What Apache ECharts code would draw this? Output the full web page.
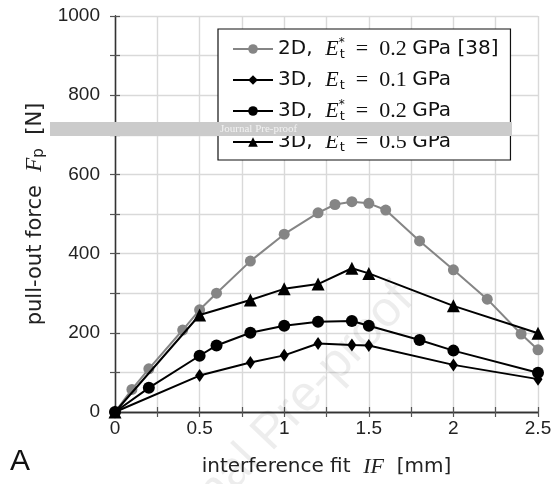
<!DOCTYPE html>
<html>
<head>
<meta charset="utf-8">
<script src="https://cdn.jsdelivr.net/npm/echarts@6/dist/echarts.min.js"></script>
<style>html,body{margin:0;padding:0;background:#fff;}#c{width:555px;height:484px;}</style>
</head>
<body>
<div id="c"></div>
<script>
// ---- data ----
const x2D = [0, 0.1, 0.2, 0.4, 0.5, 0.6, 0.8, 1.0, 1.2, 1.3, 1.4, 1.5, 1.6, 1.8, 2.0, 2.2, 2.4, 2.5];
const y2D = [0, 57, 109, 207, 258, 300, 381, 449, 503, 524, 531, 527, 510, 432, 359, 285, 197, 157];
const x01 = [0, 0.5, 0.8, 1.0, 1.2, 1.4, 1.5, 2.0, 2.5];
const y01 = [0, 92, 125, 143, 173, 169, 168, 119, 83];
const x02 = [0, 0.2, 0.5, 0.6, 0.8, 1.0, 1.2, 1.4, 1.5, 1.8, 2.0, 2.5];
const y02 = [0, 61, 142, 168, 200, 218, 228, 230, 218, 182, 155, 99];
const x05 = [0, 0.5, 0.8, 1.0, 1.2, 1.4, 1.5, 2.0, 2.5];
const y05 = [0, 245, 283, 311, 323, 363, 350, 268, 199];
const names = ['2D, E*t = 0.2 GPa [38]', '3D, Et = 0.1 GPa', '3D, E*t = 0.2 GPa', '3D, Et = 0.5 GPa'];
const richNames = [
  '2D,  {e|E}{sup|*}{sub|t}{m|  =  0.2 }GPa [38]',
  '3D,  {e|E}{sup| }{sub|t}{m|  =  0.1 }GPa',
  '3D,  {e|E}{sup|*}{sub|t}{m|  =  0.2 }GPa',
  '3D,  {e|E}{sup| }{sub|t}{m|  =  0.5 }GPa'
];
const xTicks = ['0', '0.5', '1', '1.5', '2', '2.5'];
const yTicks = ['0', '200', '400', '600', '800', '1000'];

const pairs = (xs, ys) => xs.map((v, i) => [v, ys[i]]);
const SANS = 'Liberation Sans';
const WIDE = 'DejaVu Sans';
const SERIF = 'Liberation Serif';

const chart = echarts.init(document.getElementById('c'), null, {renderer: 'canvas'});
const axisCommon = {
  axisLine: {show: true, lineStyle: {color: '#333', width: 1.3}},
  axisTick: {show: true, inside: true, length: 5, lineStyle: {color: '#555', width: 1.2}},
};
chart.setOption({
  animation: false,
  backgroundColor: '#fff',
  grid: {left: 115, right: 17, top: 16, bottom: 72},
  legend: {
    left: 218, top: 29, orient: 'vertical',
    backgroundColor: '#fff', borderColor: '#111', borderWidth: 1.2,
    padding: [8, 12, 6, 14],
    itemWidth: 40, itemHeight: 12, itemGap: 7,
    data: names,
    formatter: n => richNames[names.indexOf(n)],
    textStyle: {
      fontFamily: WIDE, fontSize: 20, color: '#111', lineHeight: 24,
      rich: {
        e: {fontFamily: SERIF, fontStyle: 'italic', fontSize: 22, color: '#111', lineHeight: 24},
        sup: {fontFamily: WIDE, fontSize: 12, color: '#111', verticalAlign: 'top', width: 1},
        sub: {fontFamily: WIDE, fontSize: 13, color: '#111', verticalAlign: 'bottom'},
        m: {fontFamily: SERIF, fontSize: 22, color: '#111', lineHeight: 24}
      }
    }
  },
  xAxis: [{
    type: 'value', min: 0, max: 2.5, interval: 0.25, position: 'bottom',
    ...axisCommon,
    splitLine: {show: true, lineStyle: {color: '#d9d9d9', width: 1.4}},
    axisLabel: {
      fontFamily: SANS, fontSize: 19, color: '#222', margin: 7,
      formatter: v => { const k = Math.round(v * 4); return k % 2 === 0 ? xTicks[k / 2] : ''; }
    },
    name: 'interference fit  {i|IF}  [mm]', nameLocation: 'middle', nameGap: 44,
    nameTextStyle: {fontFamily: WIDE, fontSize: 20, color: '#222',
      rich: {i: {fontFamily: SERIF, fontStyle: 'italic', fontSize: 22, color: '#222'}}}
  }, {
    type: 'value', min: 0, max: 2.5, interval: 0.25, position: 'top',
    ...axisCommon, splitLine: {show: false}, axisLabel: {show: false}
  }],
  yAxis: [{
    type: 'value', min: 0, max: 1000, interval: 100, position: 'left',
    ...axisCommon,
    splitLine: {show: true, lineStyle: {color: '#d9d9d9', width: 1.4}},
    axisLabel: {
      fontFamily: SANS, fontSize: 19, color: '#222', margin: 15,
      formatter: v => { const k = Math.round(v / 100); return k % 2 === 0 ? yTicks[k / 2] : ''; }
    },
    name: 'pull-out force  {f|F}{sub|p}  [N]', nameLocation: 'middle', nameGap: 59,
    nameTextStyle: {fontFamily: WIDE, fontSize: 21, color: '#222',
      rich: {
        f: {fontFamily: SERIF, fontStyle: 'italic', fontSize: 23, color: '#222'},
        sub: {fontFamily: WIDE, fontSize: 15, color: '#222', verticalAlign: 'bottom'}
      }}
  }, {
    type: 'value', min: 0, max: 1000, interval: 100, position: 'right',
    ...axisCommon, splitLine: {show: false}, axisLabel: {show: false}
  }],
  series: [
    {name: names[0], type: 'line', data: pairs(x2D, y2D), symbol: 'circle', symbolSize: 11,
      lineStyle: {color: '#858585', width: 2}, itemStyle: {color: '#858585'}, z: 2},
    {name: names[1], type: 'line', data: pairs(x01, y01), symbol: 'diamond', symbolSize: [9, 13],
      lineStyle: {color: '#000', width: 2}, itemStyle: {color: '#000'}, z: 3},
    {name: names[2], type: 'line', data: pairs(x02, y02), symbol: 'circle', symbolSize: 12,
      lineStyle: {color: '#000', width: 2}, itemStyle: {color: '#000'}, z: 3},
    {name: names[3], type: 'line', data: pairs(x05, y05), symbol: 'triangle', symbolSize: 13,
      lineStyle: {color: '#000', width: 2}, itemStyle: {color: '#000'}, z: 3}
  ],
  graphic: [
    {type: 'text', left: 10, top: 447, z: 10,
      style: {text: 'A', fontFamily: SANS, fontSize: 30, fill: '#111'}},
    {type: 'rect', shape: {x: 50, y: 122, width: 462, height: 14}, z: 100,
      style: {fill: '#cbcbcb'}},
    {type: 'text', x: 220, y: 129, z: 101,
      style: {text: 'Journal Pre-proof', fontFamily: SERIF, fontSize: 11, fill: '#f2f2f2', verticalAlign: 'middle'}},
    {type: 'text', x: 405, y: 292, rotation: 0.81, z: 101, silent: true,
      style: {text: 'Journal Pre-proof', fontFamily: SANS, fontSize: 50, fill: 'rgba(0,0,0,0.07)', align: 'right', verticalAlign: 'middle'}}
  ]
});
</script>
</body>
</html>
